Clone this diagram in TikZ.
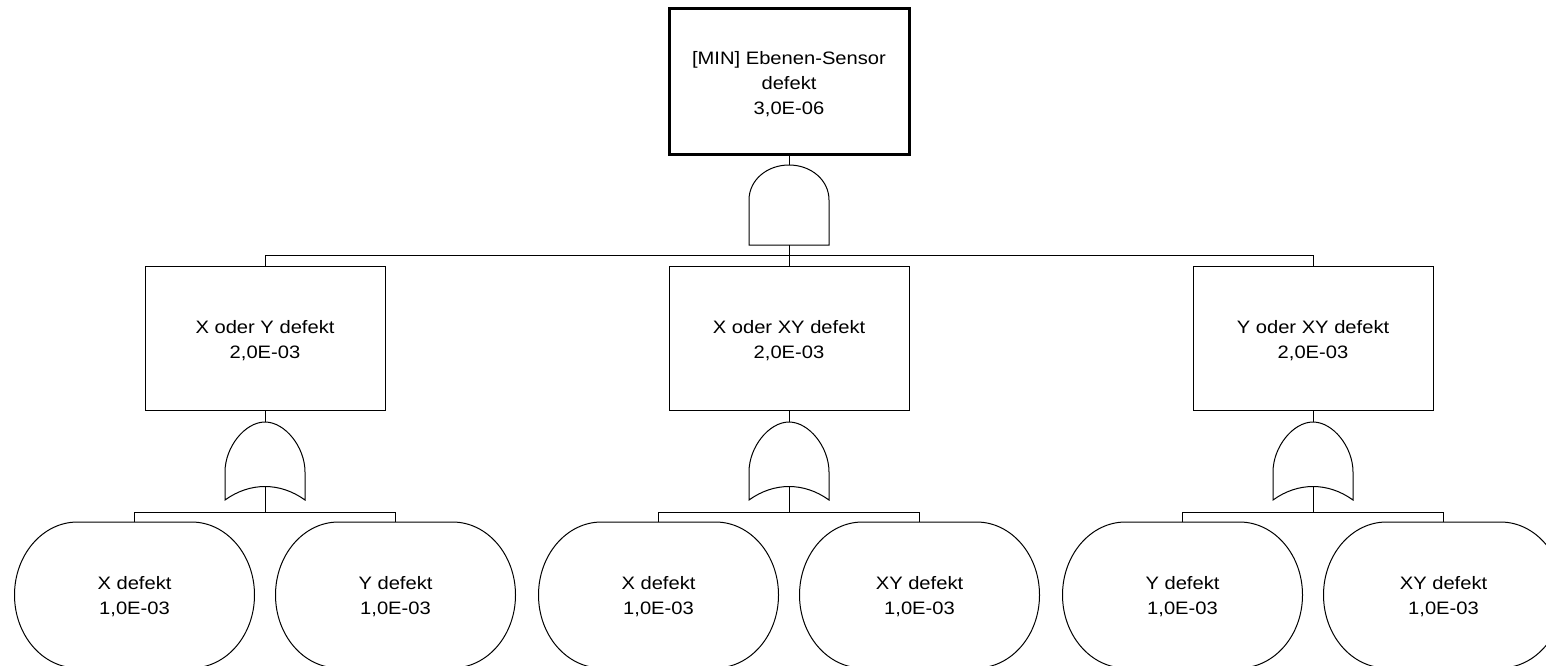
\documentclass[tikz,border=0pt]{standalone}
\usepackage{fontspec}
\setmainfont{Liberation Sans}[FakeStretch=1.12]
\newcommand\ftfont{\fontsize{18}{25}\selectfont}
\tikzset{
  wire/.style={line width=1pt, line join=miter},
  txt/.style={font=\ftfont, align=center, inner sep=0pt, yshift=-3pt},
  eventbox/.style={draw, line width=1pt, minimum width=240pt, minimum height=144pt,
    inner sep=0pt},
  topbox/.style={eventbox, line width=3pt, minimum height=145pt},
  basicev/.style={minimum width=240pt, minimum height=146pt, inner sep=0pt,
    outer sep=0pt},
}
\begin{document}
\begin{tikzpicture}[x=1pt, y=-1pt]
\useasboundingbox (0,0) rectangle (1546,666);
\clip (0,0) rectangle (1546,666);

% top event and AND gate
\node[topbox, label={[txt]center:{[MIN] Ebenen-Sensor\\defekt\\3,0E-06}}] (top) at (789,81.5) {};
\coordinate (ain) at (789,165);
\coordinate (aout) at (789,245);
\draw[wire] (ain) .. controls (767,165) and (749,180) .. (749,200) -- (749,245)
  -- (829,245) -- (829,200) .. controls (829,180) and (811,165) .. (ain);
\draw[wire] (top.south) -- (ain);
\draw[wire] (aout) -- ++(0,10) coordinate (b0);

\foreach \i/\cx/\lbl/\la/\lb in {1/265/X oder Y defekt/X defekt/Y defekt,
                                 2/789/X oder XY defekt/X defekt/XY defekt,
                                 3/1313/Y oder XY defekt/Y defekt/XY defekt}{
  % intermediate event
  \node[eventbox, label={[txt]center:{\lbl\\2,0E-03}}] (m\i) at (\cx,338) {};
  \draw[wire] (b0) -| (m\i.north);
  % OR gate
  \coordinate (oin\i) at (\cx,422);
  \coordinate (oout\i) at (\cx,486);
  \draw[wire] (oin\i) .. controls ([xshift=-20pt]oin\i) and ([shift={(-40,25)}]oin\i)
      .. ([shift={(-40,50)}]oin\i) -- ([shift={(-40,78)}]oin\i)
      .. controls ([shift={(-15,60)}]oin\i) and ([shift={(15,60)}]oin\i)
      .. ([shift={(40,78)}]oin\i) -- ([shift={(40,50)}]oin\i)
      .. controls ([shift={(40,25)}]oin\i) and ([xshift=20pt]oin\i) .. (oin\i);
  \draw[wire] (m\i.south) -- (oin\i);
  \draw[wire] (oout\i) -- ++(0,26) coordinate (bb\i);
  % basic events
  \node[basicev, label={[txt,yshift=1pt]center:{\la\\1,0E-03}}] (e\i a) at (\cx-130.5,595) {};
  \node[basicev, label={[txt,yshift=1pt]center:{\lb\\1,0E-03}}] (e\i b) at (\cx+130.5,595) {};
  \foreach \e in {e\i a, e\i b}{
    \draw[wire] ([xshift=-57pt]\e.north)
      arc[start angle=90, end angle=270, x radius=63pt, y radius=73pt]
      -- ([xshift=57pt]\e.south)
      arc[start angle=-90, end angle=90, x radius=63pt, y radius=73pt] -- cycle;
  }
  \draw[wire] (bb\i) -| (e\i a.north);
  \draw[wire] (bb\i) -| (e\i b.north);
}
\end{tikzpicture}
\end{document}
